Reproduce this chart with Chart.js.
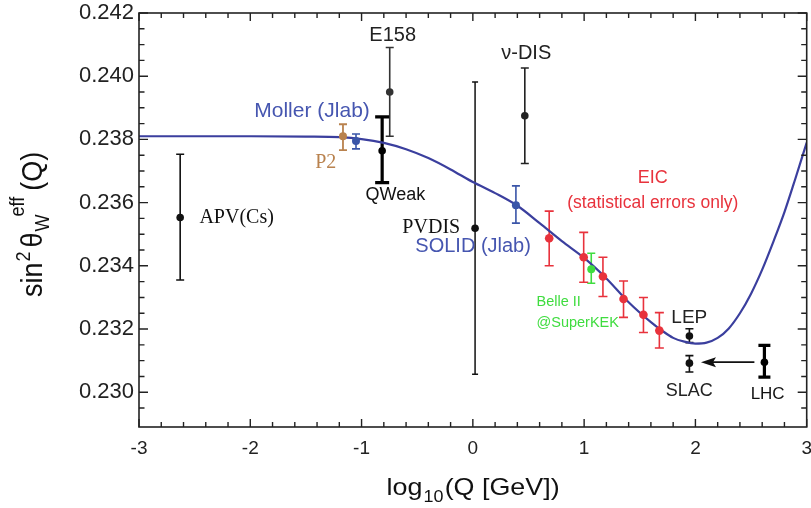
<!DOCTYPE html>
<html>
<head>
<meta charset="utf-8">
<script src="https://cdn.jsdelivr.net/npm/chart.js@4.4.0/dist/chart.umd.min.js"></script>
<style>
html, body { margin: 0; padding: 0; background: #fff; }
#wrap { width: 811px; height: 508px; }
</style>
</head>
<body>
<div id="wrap"><canvas id="chart"></canvas></div>
<script>
// tick labels
const xTicks = [-3, -2, -1, 0, 1, 2, 3];
const yTicks = [0.230, 0.232, 0.234, 0.236, 0.238, 0.240, 0.242];

// running of sin^2 theta_W
const curveX = [-3, -2.5, -2, -1.5, -1.2, -1.0, -0.8, -0.6, -0.4, -0.2, 0.0, 0.2, 0.4, 0.6, 0.8, 1.0,
                1.2, 1.4, 1.6, 1.7, 1.8, 1.9, 2.0, 2.1, 2.2, 2.3, 2.4, 2.5, 2.6, 2.7, 2.8, 2.9, 3.0];
const curveY = [0.23810, 0.23810, 0.23810, 0.23809, 0.23807, 0.23801, 0.23789, 0.23769, 0.23741, 0.23705,
                0.23665, 0.23630, 0.23590, 0.23535, 0.23478, 0.23425, 0.23360, 0.23285, 0.23222, 0.23195,
                0.23172, 0.23160, 0.23154, 0.23157, 0.23172, 0.23202, 0.23250, 0.23312, 0.23388, 0.23476,
                0.23570, 0.23678, 0.23790];

// existing measurements
const measNames = ["APV(Cs)", "E158", "QWeak", "PVDIS", "ν-DIS", "LEP", "SLAC", "LHC"];
const measX  = [-2.63, -0.747, -0.815, 0.02, 0.467, 1.946, 1.946, 2.62];
const measY  = [0.23553, 0.23950, 0.23764, 0.23519, 0.23875, 0.23178, 0.23092, 0.23095];
const measLo = [0.23355, 0.23810, 0.23663, 0.23057, 0.23724, 0.23157, 0.23064, 0.23048];
const measHi = [0.23753, 0.24091, 0.23871, 0.23982, 0.24026, 0.23201, 0.23116, 0.23148];

// future projections
const projNames = ["P2", "Moller", "SOLID", "Belle II"];
const projX  = [-1.167, -1.05, 0.387, 1.064];
const projY  = [0.23810, 0.23795, 0.23592, 0.23389];
const projLo = [0.23766, 0.23770, 0.23535, 0.23345];
const projHi = [0.23848, 0.23817, 0.23653, 0.23440];

// EIC projection (statistical errors only)
const eicX  = [0.686, 0.996, 1.169, 1.354, 1.533, 1.676];
const eicY  = [0.23487, 0.23427, 0.23366, 0.23295, 0.23245, 0.23195];
const eicLo = [0.23400, 0.23348, 0.23303, 0.23237, 0.23189, 0.23140];
const eicHi = [0.23573, 0.23506, 0.23427, 0.23352, 0.23300, 0.23252];

const toXY = (xs, ys) => xs.map((x, i) => ({ x: x, y: ys[i] }));

const SANS = '"Liberation Sans", Arial, sans-serif';
const SERIF = '"Liberation Serif", "Times New Roman", serif';
const BLUE = '#4656b0';
const RED = '#e8323c';
const GREEN = '#3fdc3f';
const BROWN = '#b9824e';

// text annotations, in data coordinates
const notes = [
    { t: 'E158', x: -0.720, y: 0.24111, a: 'center', f: '20px ' + SANS, c: '#222' },
    { t: 'ν-DIS', x: 0.480, y: 0.24054, a: 'center', f: '20px ' + SANS, c: '#222' },
    { t: 'Moller (Jlab)', x: -1.445, y: 0.23871, a: 'center', f: '21px ' + SANS, c: BLUE },
    { t: 'P2', x: -1.322, y: 0.23708, a: 'center', f: '20px ' + SERIF, c: BROWN },
    { t: 'QWeak', x: -0.696, y: 0.23608, a: 'center', f: '18px ' + SANS, c: '#111' },
    { t: 'APV(Cs)', x: -2.457, y: 0.23535, a: 'left', f: '20px ' + SERIF, c: '#111' },
    { t: 'PVDIS', x: -0.114, y: 0.23503, a: 'right', f: '20px ' + SERIF, c: '#111' },
    { t: 'SOLID (Jlab)', x: -0.517, y: 0.23445, a: 'left', f: '20px ' + SANS, c: BLUE },
    { t: 'EIC', x: 1.617, y: 0.23661, a: 'center', f: '18px ' + SANS, c: RED },
    { t: '(statistical errors only)', x: 1.617, y: 0.23582, a: 'center', f: '17.5px ' + SANS, c: RED },
    { t: 'Belle II', x: 0.572, y: 0.23273, a: 'left', f: '14.5px ' + SANS, c: GREEN },
    { t: '@SuperKEK', x: 0.572, y: 0.23208, a: 'left', f: '14.5px ' + SANS, c: GREEN },
    { t: 'LEP', x: 1.945, y: 0.23220, a: 'center', f: '19px ' + SANS, c: '#222' },
    { t: 'SLAC', x: 1.945, y: 0.22987, a: 'center', f: '18px ' + SANS, c: '#222' },
    { t: 'LHC', x: 2.649, y: 0.22978, a: 'center', f: '17px ' + SANS, c: '#111' }
];

function drawErrorBars(chart) {
    const ctx = chart.ctx;
    const xs = chart.scales.x, ys = chart.scales.y;
    chart.data.datasets.forEach((ds, di) => {
        if (!ds.lo || !chart.isDatasetVisible(di)) return;
        ds.data.forEach((p, i) => {
            const px = xs.getPixelForValue(p.x);
            const top = ys.getPixelForValue(ds.hi[i]);
            const bot = ys.getPixelForValue(ds.lo[i]);
            const w = ds.barWidth[i];
            const cap = ds.capHalf[i];
            ctx.save();
            ctx.strokeStyle = ds.barColor[i];
            ctx.lineWidth = w;
            ctx.beginPath();
            ctx.moveTo(px, top); ctx.lineTo(px, bot);
            ctx.moveTo(px - cap, top); ctx.lineTo(px + cap, top);
            ctx.moveTo(px - cap, bot); ctx.lineTo(px + cap, bot);
            ctx.stroke();
            ctx.restore();
        });
    });
}

function drawFrame(chart) {
    const ctx = chart.ctx;
    const a = chart.chartArea;
    const xs = chart.scales.x, ys = chart.scales.y;
    ctx.save();
    ctx.strokeStyle = '#222';
    ctx.lineWidth = 1.6;
    ctx.strokeRect(a.left, a.top, a.right - a.left, a.bottom - a.top);
    ctx.lineWidth = 1.4;
    ctx.beginPath();
    for (let k = 0; k <= 30; k++) {
        const v = -3 + k * 0.2;
        const px = xs.getPixelForValue(v);
        const len = k % 5 === 0 ? 8 : 5;
        ctx.moveTo(px, a.bottom); ctx.lineTo(px, a.bottom - len);
        ctx.moveTo(px, a.top); ctx.lineTo(px, a.top + len);
    }
    for (let k = 0; k <= 25; k++) {
        const v = 0.2295 + k * 0.0005;
        const py = ys.getPixelForValue(v);
        const len = (k % 4 === 1) ? 9 : 5.5;
        ctx.moveTo(a.left, py); ctx.lineTo(a.left + len, py);
        ctx.moveTo(a.right, py); ctx.lineTo(a.right - len, py);
    }
    ctx.stroke();
    ctx.restore();
}

function drawNotes(chart) {
    const ctx = chart.ctx;
    const xs = chart.scales.x, ys = chart.scales.y;
    ctx.save();
    ctx.textBaseline = 'alphabetic';
    notes.forEach(n => {
        ctx.font = n.f;
        ctx.fillStyle = n.c;
        ctx.textAlign = n.a;
        ctx.fillText(n.t, xs.getPixelForValue(n.x), ys.getPixelForValue(n.y));
    });
    // arrow from LHC to SLAC
    const ay = ys.getPixelForValue(measY[7]);
    const x0 = xs.getPixelForValue(2.53);
    const x1 = xs.getPixelForValue(2.05);
    ctx.strokeStyle = '#111';
    ctx.fillStyle = '#111';
    ctx.lineWidth = 1.8;
    ctx.beginPath();
    ctx.moveTo(x0, ay); ctx.lineTo(x1 + 6, ay);
    ctx.stroke();
    ctx.beginPath();
    ctx.moveTo(x1, ay);
    ctx.lineTo(x1 + 15, ay - 5);
    ctx.lineTo(x1 + 12, ay);
    ctx.lineTo(x1 + 15, ay + 5);
    ctx.closePath();
    ctx.fill();
    ctx.restore();
}

function drawTitles(chart) {
    const ctx = chart.ctx;
    ctx.save();
    ctx.fillStyle = '#111';
    ctx.textAlign = 'left';
    ctx.textBaseline = 'alphabetic';

    // x title: log10(Q [GeV])
    const big = '24px ' + SANS, small = '16px ' + SANS;
    ctx.save();
    ctx.font = big; const w1 = ctx.measureText('log').width;
    ctx.font = small; const w2 = ctx.measureText('10').width;
    ctx.font = big; const w3 = ctx.measureText('(Q [GeV])').width;
    const sx = 1.12;
    const x = 472 - (w1 + w2 + w3) * sx / 2;
    ctx.translate(x, 495);
    ctx.scale(sx, 1);
    ctx.font = big; ctx.fillText('log', 0, 0);
    ctx.font = small; ctx.fillText('10', w1 + 1, 7);
    ctx.font = big; ctx.fillText('(Q [GeV])', w1 + w2 + 2, 0);
    ctx.restore();

    // y title: sin^2 theta_W^eff (Q)
    const yb = '27px ' + SANS, ysm = '18px ' + SANS;
    ctx.save();
    ctx.translate(42, 0);
    ctx.scale(1.12, 1);
    ctx.translate(0, 297);
    ctx.rotate(-Math.PI / 2);
    let cx = 0;
    ctx.font = yb; ctx.fillText('sin', cx, 0); cx += ctx.measureText('sin').width;
    ctx.font = ysm; ctx.fillText('2', cx + 1, -11); cx += ctx.measureText('2').width + 5;
    ctx.font = yb; ctx.fillText('θ', cx, 0); cx += ctx.measureText('θ').width + 1;
    ctx.font = ysm; ctx.fillText('W', cx, 6);
    const wW = ctx.measureText('W').width;
    ctx.fillText('eff', cx + wW - 2, -16); cx += wW + ctx.measureText('eff').width + 4;
    ctx.font = yb; ctx.fillText('(Q)', cx, 0);
    ctx.restore();

    ctx.restore();
}

const decor = {
    id: 'decor',
    beforeDatasetsDraw(chart) { drawErrorBars(chart); },
    afterDatasetsDraw(chart) {
        drawFrame(chart);
        drawNotes(chart);
        drawTitles(chart);
    }
};

const measColors = ['#111', '#333', '#000', '#111', '#222', '#111', '#111', '#000'];
const projColors = [BROWN, '#3a55a8', '#3a55a8', GREEN];

new Chart(document.getElementById('chart'), {
    type: 'scatter',
    data: {
        datasets: [
            {
                label: 'Standard Model',
                type: 'line',
                data: toXY(curveX, curveY),
                borderColor: '#3b3f9e',
                borderWidth: 2.2,
                pointRadius: 0,
                cubicInterpolationMode: 'monotone',
                fill: false,
                order: 10
            },
            {
                label: 'measurements',
                data: toXY(measX, measY),
                lo: measLo, hi: measHi,
                barColor: measColors,
                barWidth: [1.6, 1.6, 3.2, 1.5, 1.6, 1.6, 1.6, 3.2],
                capHalf: [4, 4, 7, 3, 4, 4, 4, 6],
                pointRadius: 3.8,
                pointBackgroundColor: measColors,
                pointBorderWidth: 0,
                order: 1
            },
            {
                label: 'projections',
                data: toXY(projX, projY),
                lo: projLo, hi: projHi,
                barColor: projColors,
                barWidth: [1.8, 1.6, 1.6, 1.6],
                capHalf: [4, 4, 4, 4],
                pointRadius: 4,
                pointBackgroundColor: projColors,
                pointBorderWidth: 0,
                order: 1
            },
            {
                label: 'EIC',
                data: toXY(eicX, eicY),
                lo: eicLo, hi: eicHi,
                barColor: eicX.map(() => RED),
                barWidth: eicX.map(() => 1.6),
                capHalf: eicX.map(() => 4.5),
                pointRadius: 4.3,
                pointBackgroundColor: RED,
                pointBorderWidth: 0,
                order: 1
            }
        ]
    },
    options: {
        responsive: true,
        maintainAspectRatio: false,
        animation: false,
        events: [],
        layout: { padding: { top: 13, right: 3, left: 0, bottom: 0 } },
        plugins: {
            legend: { display: false },
            tooltip: { enabled: false }
        },
        scales: {
            x: {
                type: 'linear',
                min: -3, max: 3,
                grid: { display: false, drawTicks: false },
                border: { display: false },
                afterBuildTicks: s => { s.ticks = xTicks.map(v => ({ value: v })); },
                afterFit: s => { s.height = 81; s.paddingLeft = 0; s.paddingRight = 0; },
                ticks: {
                    padding: 10,
                    color: '#222',
                    font: { family: SANS, size: 19 },
                    maxRotation: 0,
                    callback: v => String(v)
                }
            },
            y: {
                type: 'linear',
                min: 0.2289, max: 0.242,
                grid: { display: false, drawTicks: false },
                border: { display: false },
                afterBuildTicks: s => { s.ticks = yTicks.map(v => ({ value: v })); },
                afterFit: s => { s.width = 139; s.paddingTop = 0; s.paddingBottom = 0; },
                ticks: {
                    padding: 5,
                    color: '#222',
                    font: { family: SANS, size: 22 },
                    callback: v => Number(v).toFixed(3)
                }
            }
        }
    },
    plugins: [decor]
});
</script>
</body>
</html>
